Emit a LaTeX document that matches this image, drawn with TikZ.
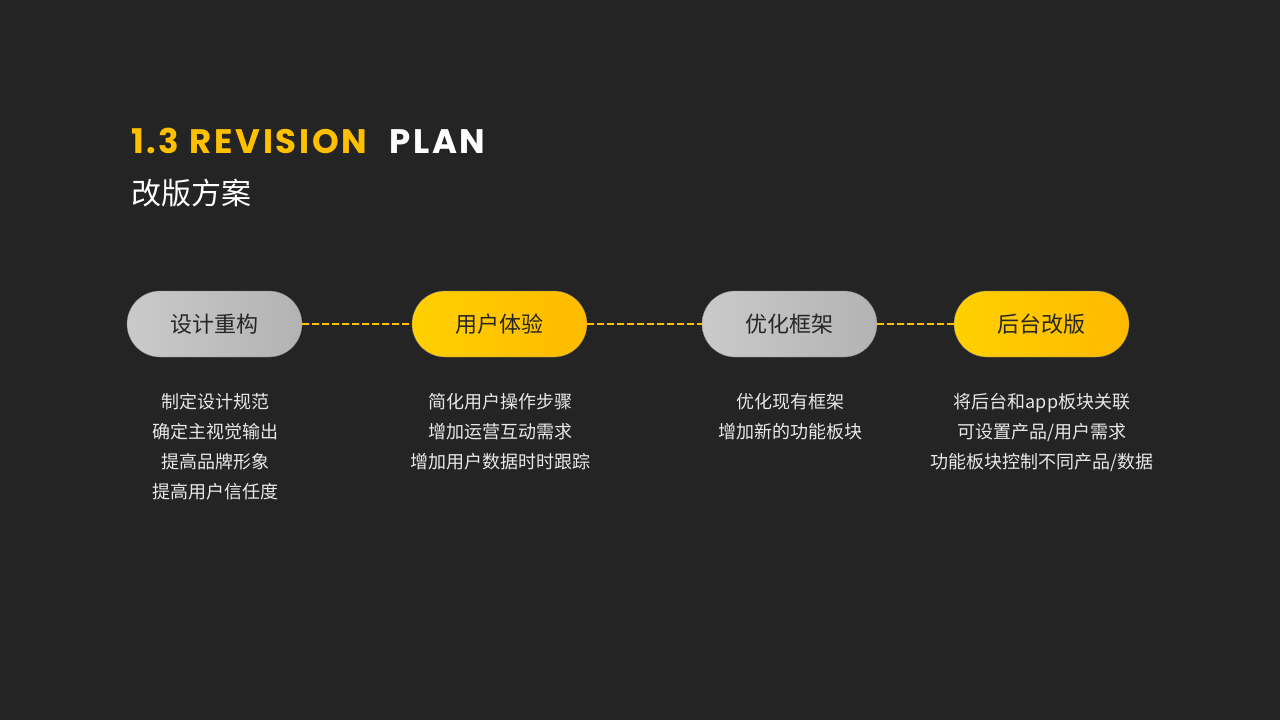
\documentclass[tikz,border=0pt]{standalone}
\usepackage{fontspec}
\setmainfont{Noto Sans CJK SC}
\newfontfamily\titlefont[LetterSpace=8]{Poppins}
\usetikzlibrary{shapes.misc}
\definecolor{bgdark}{HTML}{242424}
\definecolor{gold}{HTML}{FFC000}
\definecolor{pillgold}{HTML}{FFD000}
\definecolor{pillorange}{HTML}{FFBA00}
\definecolor{pillgrayl}{HTML}{CACACA}
\definecolor{pillgrayd}{HTML}{B3B3B3}
\definecolor{notegray}{HTML}{E8E8E8}

\begin{document}
\begin{tikzpicture}[x=1pt, y=-1pt,
  every node/.style={inner sep=0pt},
  pill/.style={rounded rectangle, minimum width=175pt, minimum height=66pt,
    draw=black!50, line width=0.3pt, text=black!85,
    font=\fontsize{22}{26}\selectfont},
  graypill/.style={pill, shading=axis, shading angle=60, left color=pillgrayl, right color=pillgrayd},
  goldpill/.style={pill, shading=axis, shading angle=60, left color=pillgold, right color=pillorange},
  note/.style={align=center, anchor=north, text=notegray, font=\fontsize{18}{30}\selectfont},
  link/.style={draw=gold, line width=1.6pt, dash pattern=on 7pt off 3pt}]
  \fill[bgdark] (0,0) rectangle (1280,720);
  \node[anchor=base west, font=\titlefont\bfseries\fontsize{34}{40}\selectfont] (title) at (131,153)
    {\textcolor{gold}{1.3 REVISION}\hspace{22pt}\textcolor{white}{PLAN}};
  \node[anchor=west, text=white, font=\fontsize{30}{34}\selectfont] (subtitle) at (131,193) {改版方案};
  \node[graypill] (p1) at (214.5,324) {设计重构};
  \node[goldpill] (p2) at (499.5,324) {用户体验};
  \node[graypill] (p3) at (789.5,324) {优化框架};
  \node[goldpill] (p4) at (1041.5,324) {后台改版};
  \draw[link] (p1) -- (p2);
  \draw[link] (p2) -- (p3);
  \draw[link] (p3) -- (p4);
  \node[note] (n1) at (215,393) {制定设计规范\\确定主视觉输出\\提高品牌形象\\提高用户信任度};
  \node[note] (n2) at (500,393) {简化用户操作步骤\\增加运营互动需求\\增加用户数据时时跟踪};
  \node[note] (n3) at (790,393) {优化现有框架\\增加新的功能板块};
  \node[note] (n4) at (1042,393) {将后台和app板块关联\\可设置产品/用户需求\\功能板块控制不同产品/数据};
\end{tikzpicture}
\end{document}
